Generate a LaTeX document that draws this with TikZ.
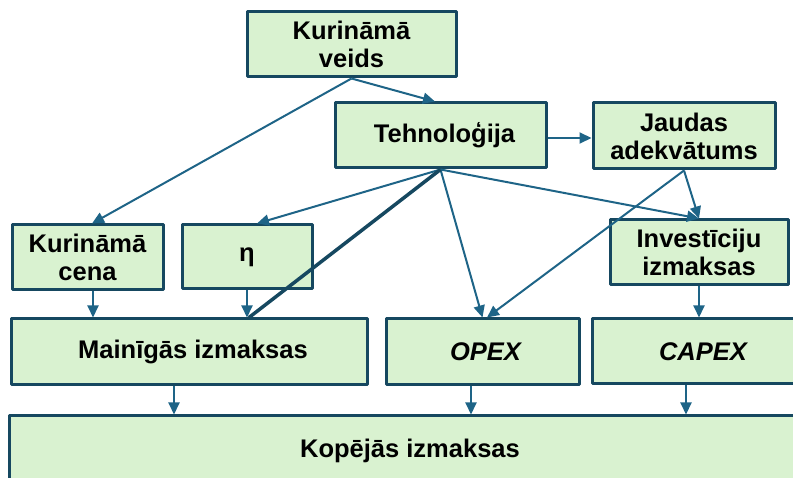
\documentclass[tikz,border=0pt]{standalone}
\usepackage{fontspec}
\setmainfont{Liberation Sans}
\usetikzlibrary{arrows.meta}

\definecolor{bloks}{RGB}{217,242,208}
\definecolor{mala}{RGB}{22,72,96}
\definecolor{bulta}{RGB}{30,100,135}

\begin{document}
\begin{tikzpicture}[
  x = 1pt,
  y = -1pt,
  line join=round,
  box/.style={draw=mala, fill=bloks, line width=3pt, inner sep=0pt,
    align=center, font=\bfseries\fontsize{25.5}{28}\selectfont},
  arr/.style={draw=bulta, line width=2pt, -{Triangle[length=12pt,width=11pt]}}
]
  \useasboundingbox (0,0) rectangle (793,478);
  \clip (0,0) rectangle (793,478);

  % bloki
  \node[box, minimum width=209pt, minimum height=65pt] (veids) at (351.5,44.5) {Kurināmā\\veids};
  \node[box, minimum width=211pt, minimum height=65pt] (tech)  at (440.5,135.5) {\hspace{8pt}Tehnoloģija};
  \node[box, minimum width=182pt, minimum height=66pt] (jaud)  at (684,136) {Jaudas\\adekvātums};
  \node[box, minimum width=151pt, minimum height=65pt] (cena)  at (87.5,257.5) {Kurināmā\\cena};
  \node[box, minimum width=130pt, minimum height=64pt] (eta)   at (247,257) {η};
  \node[box, minimum width=178pt, minimum height=65pt] (inv)   at (699,252.5) {Investīciju\\izmaksas};
  \node[box, minimum width=356pt, minimum height=66pt] (main)  at (189,352) {\hspace{8pt}Mainīgās izmaksas};
  \node[box, minimum width=193pt, minimum height=66pt] (opex)  at (482.5,352) {\hspace{6pt}\itshape OPEX};
  \node[box, minimum width=222pt, minimum height=65pt] (capex) at (703,351.5) {\itshape CAPEX};
  \node[box, minimum width=802pt, minimum height=70pt] (kop)   at (410,451) {Kopējās izmaksas};

  % bultas
  \draw[arr] (veids.south) -- ([xshift=4.5pt]cena.north);
  \draw[arr] (veids.south) -- ([xshift=-5.5pt]tech.north);
  \draw[arr] ([yshift=-2.5pt]tech.east) -- ([yshift=-2.5pt]tech.east -| jaud.west);
  \draw[arr] (tech.south) -- ([xshift=10pt]eta.north);
  \draw[arr] (tech.south) -- (opex.north);
  \draw[arr] (tech.south) -- (inv.north);
  \draw[draw=mala, line width=3.5pt] (tech.south) -- ([xshift=60pt]main.north);
  \draw[arr] (jaud.south) -- (inv.north);
  \draw[arr] (jaud.south) -- ([xshift=4.5pt]opex.north);
  \draw[arr] ([xshift=5.5pt]cena.south) -- ([xshift=5.5pt]cena.south |- main.north);
  \draw[arr] (eta.south) -- (eta.south |- main.north);
  \draw[arr] (inv.south) -- (inv.south |- capex.north);

  % uz kopējām izmaksām
  \draw[arr] ([xshift=-15pt]main.south) -- ([xshift=-15pt]main.south |- kop.north);
  \draw[arr] ([xshift=-11.5pt]opex.south) -- ([xshift=-11.5pt]opex.south |- kop.north);
  \draw[arr] ([xshift=-17pt]capex.south) -- ([xshift=-17pt]capex.south |- kop.north);
\end{tikzpicture}
\end{document}
